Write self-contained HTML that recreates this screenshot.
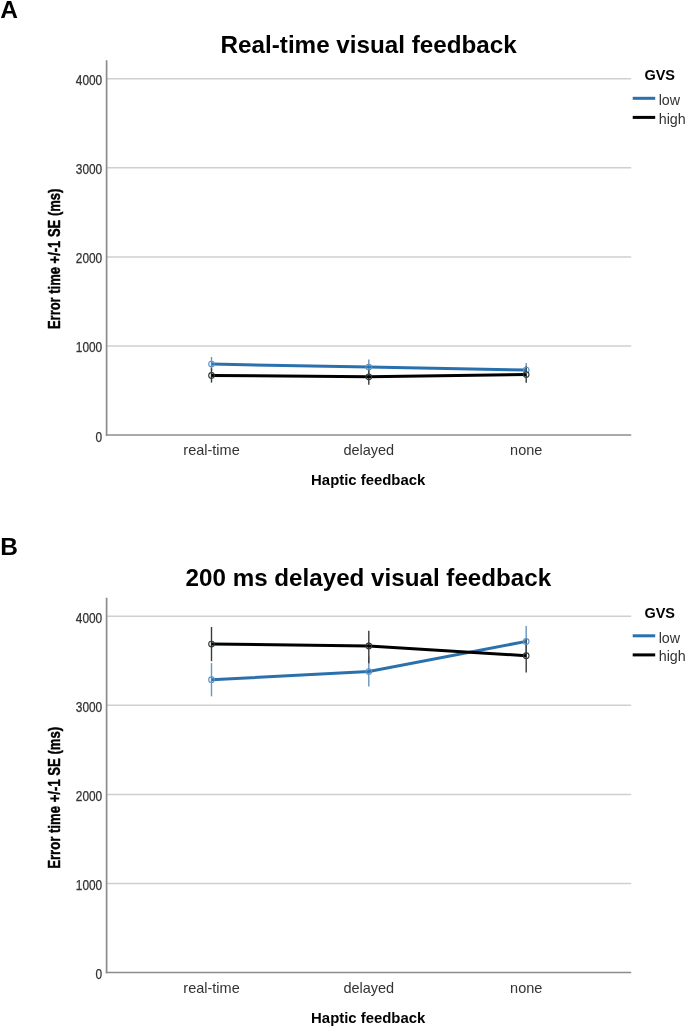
<!DOCTYPE html>
<html><head><meta charset="utf-8"><style>
html,body{margin:0;padding:0;background:#fff;}
body{width:685px;height:1026px;overflow:hidden;}
svg{display:block;will-change:transform;font-family:"Liberation Sans",sans-serif;}
</style></head><body>
<svg width="685" height="1026" viewBox="0 0 685 1026">
<rect width="685" height="1026" fill="#fff"/>
<text x="0.3" y="17.60" font-size="24.5" font-weight="bold" fill="#000">A</text>
<text x="220.6" y="53.40" font-size="24" font-weight="bold" fill="#000" textLength="296.2" lengthAdjust="spacingAndGlyphs">Real-time visual feedback</text>
<line x1="107" x2="631.2" y1="78.80" y2="78.80" stroke="#cfcfcf" stroke-width="1.5"/>
<line x1="107" x2="631.2" y1="167.85" y2="167.85" stroke="#cfcfcf" stroke-width="1.5"/>
<line x1="107" x2="631.2" y1="256.90" y2="256.90" stroke="#cfcfcf" stroke-width="1.5"/>
<line x1="107" x2="631.2" y1="345.95" y2="345.95" stroke="#cfcfcf" stroke-width="1.5"/>
<line x1="106.6" x2="106.6" y1="60.30" y2="435.80" stroke="#8c8c8c" stroke-width="1.7"/>
<line x1="105.8" x2="631.2" y1="435.00" y2="435.00" stroke="#8c8c8c" stroke-width="1.7"/>
<text x="102.2" y="85.30" font-size="14.2" text-anchor="end" fill="#333333" stroke="#333333" stroke-width="0.25" textLength="26.4" lengthAdjust="spacingAndGlyphs">4000</text>
<text x="102.2" y="174.35" font-size="14.2" text-anchor="end" fill="#333333" stroke="#333333" stroke-width="0.25" textLength="26.4" lengthAdjust="spacingAndGlyphs">3000</text>
<text x="102.2" y="263.40" font-size="14.2" text-anchor="end" fill="#333333" stroke="#333333" stroke-width="0.25" textLength="26.4" lengthAdjust="spacingAndGlyphs">2000</text>
<text x="102.2" y="352.45" font-size="14.2" text-anchor="end" fill="#333333" stroke="#333333" stroke-width="0.25" textLength="26.4" lengthAdjust="spacingAndGlyphs">1000</text>
<text x="102.2" y="441.50" font-size="14.2" text-anchor="end" fill="#333333" stroke="#333333" stroke-width="0.25" textLength="6.6" lengthAdjust="spacingAndGlyphs">0</text>
<text transform="translate(60.4,258.90) rotate(-90)" x="0" y="0" font-size="16.3" font-weight="bold" text-anchor="middle" fill="#000" stroke="#000" stroke-width="0.45" textLength="140.4" lengthAdjust="spacingAndGlyphs">Error time +/-1 SE (ms)</text>
<text x="211.5" y="455.10" font-size="14.5" text-anchor="middle" fill="#333333">real-time</text>
<text x="368.8" y="455.10" font-size="14.5" text-anchor="middle" fill="#333333">delayed</text>
<text x="526.2" y="455.10" font-size="14.5" text-anchor="middle" fill="#333333">none</text>
<text x="368.2" y="485.00" font-size="14.9" font-weight="bold" text-anchor="middle" fill="#000">Haptic feedback</text>
<text x="644.4" y="80.00" font-size="14.5" font-weight="bold" fill="#000">GVS</text>
<line x1="632.7" x2="655.2" y1="98.30" y2="98.30" stroke="#2a70ad" stroke-width="3"/>
<line x1="632.7" x2="655.2" y1="117.40" y2="117.40" stroke="#000000" stroke-width="3"/>
<text x="658.7" y="105.10" font-size="14.3" fill="#333333">low</text>
<text x="658.7" y="123.60" font-size="14.3" fill="#333333">high</text>
<line x1="211.5" x2="211.5" y1="357.00" y2="371.20" stroke="#6a93bd" stroke-width="1.4"/>
<line x1="368.8" x2="368.8" y1="359.60" y2="374.60" stroke="#6a93bd" stroke-width="1.4"/>
<line x1="526.2" x2="526.2" y1="363.10" y2="377.10" stroke="#6a93bd" stroke-width="1.4"/>
<line x1="211.5" x2="211.5" y1="368.20" y2="382.60" stroke="#3a3a3a" stroke-width="1.4"/>
<line x1="368.8" x2="368.8" y1="368.90" y2="384.70" stroke="#3a3a3a" stroke-width="1.4"/>
<line x1="526.2" x2="526.2" y1="366.30" y2="382.70" stroke="#3a3a3a" stroke-width="1.4"/>
<polyline points="211.5,364.10 368.8,367.10 526.2,370.10" fill="none" stroke="#2a70ad" stroke-width="3.0" stroke-linejoin="round"/>
<polyline points="211.5,375.40 368.8,376.80 526.2,374.50" fill="none" stroke="#000000" stroke-width="3.0" stroke-linejoin="round"/>
<circle cx="211.5" cy="364.10" r="2.8" fill="none" stroke="#5b93c6" stroke-width="1.1"/>
<circle cx="368.8" cy="367.10" r="2.8" fill="none" stroke="#5b93c6" stroke-width="1.1"/>
<circle cx="526.2" cy="370.10" r="2.8" fill="none" stroke="#5b93c6" stroke-width="1.1"/>
<circle cx="211.5" cy="375.40" r="2.8" fill="none" stroke="#2e3a36" stroke-width="1.1"/>
<circle cx="368.8" cy="376.80" r="2.8" fill="none" stroke="#2e3a36" stroke-width="1.1"/>
<circle cx="526.2" cy="374.50" r="2.8" fill="none" stroke="#2e3a36" stroke-width="1.1"/>
<text x="0.3" y="555.10" font-size="24.5" font-weight="bold" fill="#000">B</text>
<text x="185.6" y="586.00" font-size="24" font-weight="bold" fill="#000" textLength="365.6" lengthAdjust="spacingAndGlyphs">200 ms delayed visual feedback</text>
<line x1="107" x2="631.2" y1="616.30" y2="616.30" stroke="#cfcfcf" stroke-width="1.5"/>
<line x1="107" x2="631.2" y1="705.35" y2="705.35" stroke="#cfcfcf" stroke-width="1.5"/>
<line x1="107" x2="631.2" y1="794.40" y2="794.40" stroke="#cfcfcf" stroke-width="1.5"/>
<line x1="107" x2="631.2" y1="883.45" y2="883.45" stroke="#cfcfcf" stroke-width="1.5"/>
<line x1="106.6" x2="106.6" y1="597.80" y2="973.30" stroke="#8c8c8c" stroke-width="1.7"/>
<line x1="105.8" x2="631.2" y1="972.50" y2="972.50" stroke="#8c8c8c" stroke-width="1.7"/>
<text x="102.2" y="622.80" font-size="14.2" text-anchor="end" fill="#333333" stroke="#333333" stroke-width="0.25" textLength="26.4" lengthAdjust="spacingAndGlyphs">4000</text>
<text x="102.2" y="711.85" font-size="14.2" text-anchor="end" fill="#333333" stroke="#333333" stroke-width="0.25" textLength="26.4" lengthAdjust="spacingAndGlyphs">3000</text>
<text x="102.2" y="800.90" font-size="14.2" text-anchor="end" fill="#333333" stroke="#333333" stroke-width="0.25" textLength="26.4" lengthAdjust="spacingAndGlyphs">2000</text>
<text x="102.2" y="889.95" font-size="14.2" text-anchor="end" fill="#333333" stroke="#333333" stroke-width="0.25" textLength="26.4" lengthAdjust="spacingAndGlyphs">1000</text>
<text x="102.2" y="979.00" font-size="14.2" text-anchor="end" fill="#333333" stroke="#333333" stroke-width="0.25" textLength="6.6" lengthAdjust="spacingAndGlyphs">0</text>
<text transform="translate(60.4,797.80) rotate(-90)" x="0" y="0" font-size="16.3" font-weight="bold" text-anchor="middle" fill="#000" stroke="#000" stroke-width="0.45" textLength="142" lengthAdjust="spacingAndGlyphs">Error time +/-1 SE (ms)</text>
<text x="211.5" y="992.60" font-size="14.5" text-anchor="middle" fill="#333333">real-time</text>
<text x="368.8" y="992.60" font-size="14.5" text-anchor="middle" fill="#333333">delayed</text>
<text x="526.2" y="992.60" font-size="14.5" text-anchor="middle" fill="#333333">none</text>
<text x="368.2" y="1022.50" font-size="14.9" font-weight="bold" text-anchor="middle" fill="#000">Haptic feedback</text>
<text x="644.4" y="617.50" font-size="14.5" font-weight="bold" fill="#000">GVS</text>
<line x1="632.7" x2="655.2" y1="635.80" y2="635.80" stroke="#2a70ad" stroke-width="3"/>
<line x1="632.7" x2="655.2" y1="654.90" y2="654.90" stroke="#000000" stroke-width="3"/>
<text x="658.7" y="642.60" font-size="14.3" fill="#333333">low</text>
<text x="658.7" y="661.10" font-size="14.3" fill="#333333">high</text>
<line x1="211.5" x2="211.5" y1="663.10" y2="696.30" stroke="#6a93bd" stroke-width="1.4"/>
<line x1="368.8" x2="368.8" y1="656.40" y2="686.60" stroke="#6a93bd" stroke-width="1.4"/>
<line x1="526.2" x2="526.2" y1="626.10" y2="656.70" stroke="#6a93bd" stroke-width="1.4"/>
<line x1="211.5" x2="211.5" y1="627.00" y2="661.20" stroke="#3a3a3a" stroke-width="1.4"/>
<line x1="368.8" x2="368.8" y1="630.70" y2="663.20" stroke="#3a3a3a" stroke-width="1.4"/>
<line x1="526.2" x2="526.2" y1="639.00" y2="672.40" stroke="#3a3a3a" stroke-width="1.4"/>
<polyline points="211.5,679.70 368.8,671.50 526.2,641.40" fill="none" stroke="#2a70ad" stroke-width="3.0" stroke-linejoin="round"/>
<polyline points="211.5,644.10 368.8,645.90 526.2,655.70" fill="none" stroke="#000000" stroke-width="3.0" stroke-linejoin="round"/>
<circle cx="211.5" cy="679.70" r="2.8" fill="none" stroke="#5b93c6" stroke-width="1.1"/>
<circle cx="368.8" cy="671.50" r="2.8" fill="none" stroke="#5b93c6" stroke-width="1.1"/>
<circle cx="526.2" cy="641.40" r="2.8" fill="none" stroke="#5b93c6" stroke-width="1.1"/>
<circle cx="211.5" cy="644.10" r="2.8" fill="none" stroke="#2e3a36" stroke-width="1.1"/>
<circle cx="368.8" cy="645.90" r="2.8" fill="none" stroke="#2e3a36" stroke-width="1.1"/>
<circle cx="526.2" cy="655.70" r="2.8" fill="none" stroke="#2e3a36" stroke-width="1.1"/>
</svg>
</body></html>
